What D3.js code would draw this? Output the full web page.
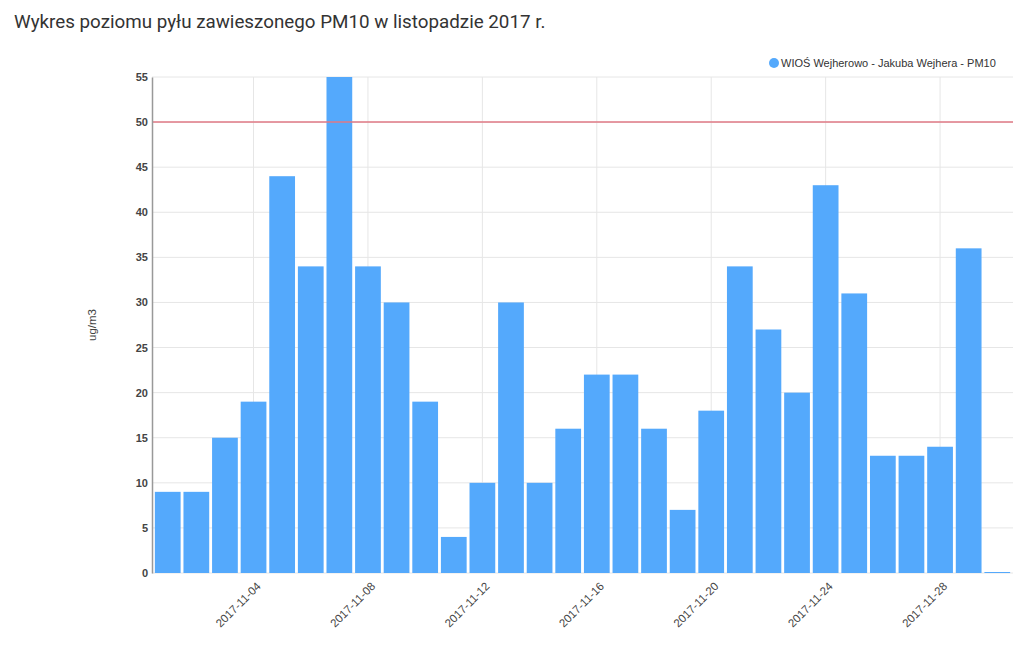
<!DOCTYPE html>
<html>
<head>
<meta charset="utf-8">
<script src="https://cdn.jsdelivr.net/npm/d3@7"></script>
<style>
  body { margin: 0; background: #fff; }
  text { font-family: "Liberation Sans", Arial, sans-serif; }
</style>
</head>
<body>
<div id="chart"></div>
<script>
/* CONSTANTS AND DATA */
const width = 1024;
const height = 666;

const days = d3.range(1, 31).map(d => `2017-11-${String(d).padStart(2, "0")}`);
const pm10 = [9, 9, 15, 19, 44, 34, 55, 34, 30, 19,
              4, 10, 30, 10, 16, 22, 22, 16, 7, 18,
              34, 27, 20, 43, 31, 13, 13, 14, 36, 0];
const tickDays = ["2017-11-04", "2017-11-08", "2017-11-12", "2017-11-16", "2017-11-20", "2017-11-24", "2017-11-28"];
const yTicks = [0, 5, 10, 15, 20, 25, 30, 35, 40, 45, 50, 55];
const limit = 50;
const seriesName = "WIOŚ Wejherowo - Jakuba Wejhera - PM10";
const title = "Wykres poziomu pyłu zawieszonego PM10 w listopadzie 2017 r.";

const data = days.map((d, i) => ({day: d, value: pm10[i]}));

const mLeft = 152, mRight = 1013, mTop = 77, mBottom = 573;

const svg = d3.select("#chart")
  .append("svg")
  .attr("width", width)
  .attr("height", height);

// scales
const xScale = d3.scaleBand()
  .domain(days)
  .range([mLeft, mRight])
  .paddingInner(0.1)
  .paddingOuter(0.1);

const yScale = d3.scaleLinear()
  .domain([0, 55])
  .range([mBottom, mTop]);

// title
svg.append("text")
  .attr("x", 14)
  .attr("y", 28)
  .text(title)
  .style("font-family", "Roboto, sans-serif")
  .style("font-size", "18.8px")
  .style("fill", "#333");

// horizontal grid
svg.append("g")
  .selectAll("line")
  .data(yTicks)
  .join("line")
  .attr("x1", mLeft)
  .attr("x2", mRight)
  .attr("y1", d => yScale(d))
  .attr("y2", d => yScale(d))
  .attr("stroke", "#e6e6e6")
  .attr("stroke-width", 1);

// vertical grid
svg.append("g")
  .selectAll("line")
  .data(tickDays)
  .join("line")
  .attr("x1", d => xScale(d) + xScale.bandwidth() / 2)
  .attr("x2", d => xScale(d) + xScale.bandwidth() / 2)
  .attr("y1", mTop)
  .attr("y2", mBottom)
  .attr("stroke", "#e6e6e6")
  .attr("stroke-width", 1);

// bars
svg.append("g")
  .selectAll("rect")
  .data(data)
  .join("rect")
  .attr("x", d => xScale(d.day))
  .attr("width", xScale.bandwidth())
  .attr("y", d => Math.min(yScale(d.value), mBottom - 1))
  .attr("height", d => Math.max(mBottom - yScale(d.value), 1))
  .attr("fill", "#54a9fc");

// limit line
svg.append("line")
  .attr("x1", mLeft)
  .attr("x2", mRight)
  .attr("y1", yScale(limit))
  .attr("y2", yScale(limit))
  .attr("stroke", "#e07a86")
  .attr("stroke-width", 1.5);

// y axis
const yAxis = d3.axisLeft(yScale).tickValues(yTicks).tickSize(0).tickPadding(4);
const gy = svg.append("g")
  .attr("transform", `translate(${mLeft},0)`)
  .call(yAxis);
gy.select(".domain").attr("stroke", "#999").attr("stroke-width", 1.5);
gy.selectAll("text")
  .style("font-size", "11px")
  .style("font-weight", "bold")
  .style("fill", "#444");

// x axis labels
const xAxis = d3.axisBottom(xScale).tickValues(tickDays).tickSize(0).tickPadding(0);
const gx = svg.append("g")
  .attr("transform", `translate(0,${mBottom})`)
  .call(xAxis);
gx.select(".domain").remove();
gx.selectAll("text")
  .attr("text-anchor", "end")
  .attr("dy", 0)
  .attr("transform", "translate(8,14) rotate(-45)")
  .style("font-size", "11.5px")
  .style("fill", "#444");

// y label
svg.append("text")
  .attr("transform", "translate(96,325) rotate(-90)")
  .attr("text-anchor", "middle")
  .text("ug/m3")
  .style("font-size", "11.5px")
  .style("fill", "#444");

// legend
svg.append("circle")
  .attr("cx", 774)
  .attr("cy", 63)
  .attr("r", 5)
  .attr("fill", "#54a9fc");
svg.append("text")
  .attr("x", 781)
  .attr("y", 67)
  .text(seriesName)
  .style("font-size", "11px")
  .style("fill", "#333");
</script>
</body>
</html>
